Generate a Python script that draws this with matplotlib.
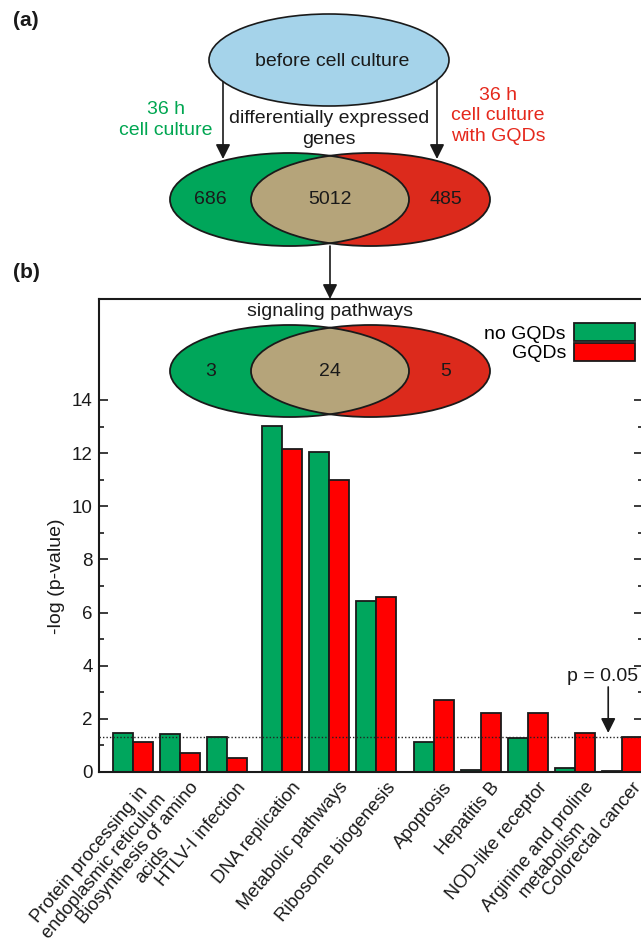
"""Venn diagrams plus KEGG pathway enrichment bars (no GQDs vs GQDs)."""

import matplotlib

matplotlib.use("Agg")  # Non-interactive backend

import matplotlib.pyplot as plt
import numpy as np
from matplotlib.patches import Ellipse
from matplotlib.ticker import FixedLocator

plt.rcParams["font.family"] = ["Liberation Sans", "DejaVu Sans"]

# Data
pathways = [
    "Protein processing in\nendoplasmic reticulum",
    "Biosynthesis of amino\nacids",
    "HTLV-I infection",
    "DNA replication",
    "Metabolic pathways",
    "Ribosome biogenesis",
    "Apoptosis",
    "Hepatitis B",
    "NOD-like receptor",
    "Arginine and proline\nmetabolism",
    "Colorectal cancer",
]
no_gqds = [1.46, 1.42, 1.31, 13.02, 12.03, 6.44, 1.14, 0.06, 1.29, 0.16, 0.05]
gqds = [1.14, 0.73, 0.52, 12.17, 10.99, 6.60, 2.71, 2.23, 2.23, 1.46, 1.33]
series_names = ["no GQDs", "GQDs"]
dge_counts = [686, 5012, 485]
pathway_counts = [3, 24, 5]
p_threshold = 0.05
y_major = [0, 2, 4, 6, 8, 10, 12, 14]
y_minor = [1, 3, 5, 7, 9, 11, 13]

# Colours
BAR_GREEN = "#00A65D"
BAR_RED = "#FF0000"
VENN_GREEN = "#00A65A"
VENN_RED = "#DC2A1C"
VENN_TAN = "#B5A47A"
VENN_BLUE = "#A5D3EA"
TXT_GREEN = "#00A651"
TXT_RED = "#E5281C"
INK = "#1a1a1a"

W, H = 641, 940
fig = plt.figure(figsize=(W / 100, H / 100), dpi=100)

# Panel (b) bar chart
ax = fig.add_axes([99 / W, 1 - 772 / H, (643 - 99) / W, (772 - 299) / H])

n = len(pathways)
offset = np.zeros(n)
offset[3:] += 0.18  # small gaps between pathway blocks
offset[6:] += 0.22
x = np.arange(n) + offset
w = 0.425

b1 = ax.bar(x - w / 2, no_gqds, width=w, color=BAR_GREEN, edgecolor=INK, linewidth=1.3, zorder=2)
b2 = ax.bar(x + w / 2, gqds, width=w, color=BAR_RED, edgecolor=INK, linewidth=1.3, zorder=2)

ax.axhline(-np.log10(p_threshold), color="#222222", linestyle=(0, (1, 1.5)), linewidth=1.0, zorder=3)

ax.set_xlim(-0.723, 10.85)
ax.set_ylim(0, 17.8)
ax.yaxis.set_major_locator(FixedLocator(y_major))
ax.yaxis.set_minor_locator(FixedLocator(y_minor))
ax.tick_params(axis="y", which="major", direction="in", length=6.5, width=1.2,
               labelsize=13.5, pad=4.5, right=True, colors=INK)
ax.tick_params(axis="y", which="minor", direction="in", length=3.6, width=1.2, right=True, colors=INK)

ax.set_xticks(x + 0.2)
ax.set_xticklabels(pathways, rotation=50, ha="right", va="top", rotation_mode="anchor",
                   multialignment="center", linespacing=1.15, fontsize=13.2, color=INK)
ax.tick_params(axis="x", length=0, pad=5)

for spine in ax.spines.values():
    spine.set_linewidth(1.5)
    spine.set_color(INK)

ax.set_ylabel("-log (p-value)", fontsize=14, color=INK)
ax.yaxis.set_label_coords(-0.0625, 0.414)

ax.annotate("", xy=(10.11, 1.47), xytext=(10.11, 3.2),
            arrowprops=dict(arrowstyle="-|>", color=INK, lw=1.2, mutation_scale=22,
                            shrinkA=0, shrinkB=0))
ax.text(10.0, 3.58, f"p = {p_threshold}", ha="center", va="center", fontsize=14, color=INK)

ax.legend([b1, b2], series_names, loc="upper right", bbox_to_anchor=(635 / W, 1 - 323 / H),
          bbox_transform=fig.transFigure, frameon=False, markerfirst=False, fontsize=14,
          handlelength=3.15, handleheight=1.05, labelspacing=0, handletextpad=0.4,
          borderpad=0, borderaxespad=0)

# Overlay in pixel coordinates for the diagrams
ov = fig.add_axes([0, 0, 1, 1], zorder=5)
ov.set_xlim(0, W)
ov.set_ylim(H, 0)
ov.axis("off")
ov.patch.set_alpha(0)


def draw_venn(axo, cx, cy, counts, ew=239, eh=93, sep=81):
    lc, rc = cx - sep / 2, cx + sep / 2
    left = Ellipse((lc, cy), ew, eh, facecolor=VENN_GREEN, edgecolor="none", zorder=2)
    right = Ellipse((rc, cy), ew, eh, facecolor=VENN_RED, edgecolor="none", zorder=2)
    axo.add_patch(left)
    axo.add_patch(right)
    mid = Ellipse((lc, cy), ew, eh, facecolor=VENN_TAN, edgecolor="none", zorder=2.5)
    axo.add_patch(mid)
    mid.set_clip_path(right)
    for c in (lc, rc):
        axo.add_patch(Ellipse((c, cy), ew, eh, fill=False, edgecolor=INK, linewidth=1.3, zorder=3))
    left_edge = lc - ew / 2
    right_edge = rc + ew / 2
    axo.text((left_edge + rc - ew / 2) / 2, cy, str(counts[0]), ha="center", va="center",
             fontsize=14, color=INK, zorder=4)
    axo.text(cx, cy, str(counts[1]), ha="center", va="center", fontsize=14, color=INK, zorder=4)
    axo.text((lc + ew / 2 + right_edge) / 2 - 4, cy, str(counts[2]), ha="center", va="center",
             fontsize=14, color=INK, zorder=4)


arrow_kw = dict(arrowstyle="-|>", color=INK, lw=1.2, mutation_scale=22, shrinkA=0, shrinkB=0)

# Panel (a)
ov.text(26, 21, "(a)", ha="center", va="center", fontsize=15, fontweight="bold", color=INK)
ov.add_patch(Ellipse((329, 60), 240, 92, facecolor=VENN_BLUE, edgecolor=INK, linewidth=1.2, zorder=4))
ov.text(332, 62, "before cell culture", ha="center", va="center", fontsize=14, color=INK, zorder=5)
ov.annotate("", xy=(223, 159), xytext=(223, 60), arrowprops=arrow_kw, zorder=3)
ov.annotate("", xy=(437, 159), xytext=(437, 60), arrowprops=arrow_kw, zorder=3)
ov.text(166, 120, "36 h\ncell culture", ha="center", va="center", fontsize=14,
        color=TXT_GREEN, linespacing=1.25)
ov.text(498, 116, "36 h\ncell culture\nwith GQDs", ha="center", va="center", fontsize=14,
        color=TXT_RED, linespacing=1.25)
ov.text(329, 129, "differentially expressed\ngenes", ha="center", va="center", fontsize=14,
        color=INK, linespacing=1.25)
draw_venn(ov, 330, 199.5, dge_counts)
ov.annotate("", xy=(330, 299), xytext=(330, 246), arrowprops=arrow_kw, zorder=3)

# Panel (b) header and pathway Venn
ov.text(26, 272, "(b)", ha="center", va="center", fontsize=15, fontweight="bold", color=INK)
ov.text(330, 312, "signaling pathways", ha="center", va="center", fontsize=14, color=INK)
draw_venn(ov, 330, 371, pathway_counts, eh=92)

fig.savefig("out.png", dpi=100)
plt.close(fig)
